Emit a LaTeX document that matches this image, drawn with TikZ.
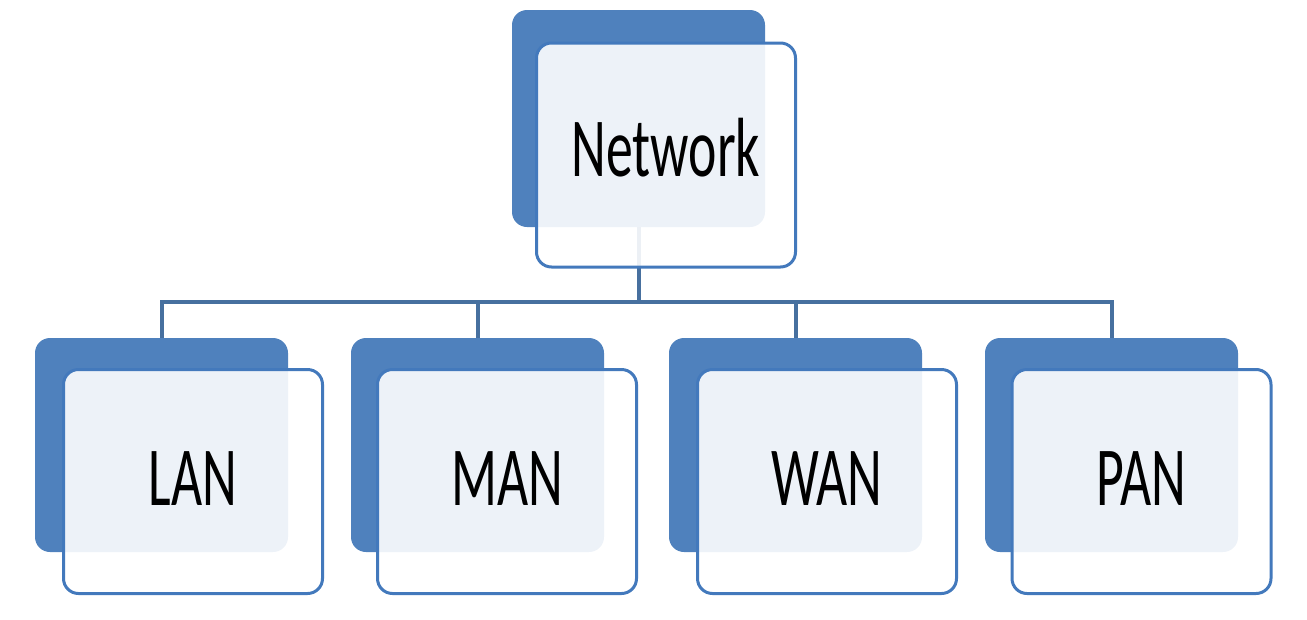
\documentclass[tikz,border=0pt]{standalone}
\usepackage{fontspec}
\newfontfamily\boxfont[FakeStretch=0.64]{Carlito}
\definecolor{backblue}{HTML}{4F81BD}
\definecolor{edgeblue}{HTML}{4379BC}
\definecolor{linkblue}{HTML}{47709F}
\tikzset{
  backbox/.style={draw=none, fill=backblue, rounded corners=15pt, inner sep=0pt,
    minimum width=253pt, minimum height=214pt},
  frontbox/.style={draw=edgeblue, line width=3pt, fill=white, fill opacity=0.9,
    text opacity=1, rounded corners=15pt, inner sep=0pt,
    minimum width=259pt, minimum height=224pt,
    text height=53pt, text depth=6pt,
    font=\boxfont\fontsize{84}{90}\selectfont, text=black},
  link/.style={draw=linkblue, line width=4pt}
}
\begin{document}
\begin{tikzpicture}[x=1pt, y=-1pt]
\useasboundingbox (0,0) rectangle (1307,619);
% back panels
\node[backbox, minimum height=217pt] (netb) at (638.5,118.5) {};
\node[backbox] (lanb) at (161.5,445) {};
\node[backbox] (manb) at (477.5,445) {};
\node[backbox] (wanb) at (795.5,445) {};
\node[backbox] (panb) at (1111.5,445) {};
% horizontal bus level
\coordinate (bus) at (0,302);
% connectors
\draw[link] (netb.south) -- (netb.south |- bus);
\draw[link] (lanb.north) -- (lanb.north |- bus) -- (panb.north |- bus) -- (panb.north);
\draw[link] (manb.north) -- (manb.north |- bus);
\draw[link] (wanb.north) -- (wanb.north |- bus);
% front panels
\node[frontbox, text depth=10pt] (net) at (666,155) {Network};
\node[frontbox] (lan) at (193,481.5) {LAN};
\node[frontbox] (man) at (507,481.5) {MAN};
\node[frontbox] (wan) at (827,481.5) {WAN};
\node[frontbox] (pan) at (1141.5,481.5) {PAN};
\end{tikzpicture}
\end{document}
